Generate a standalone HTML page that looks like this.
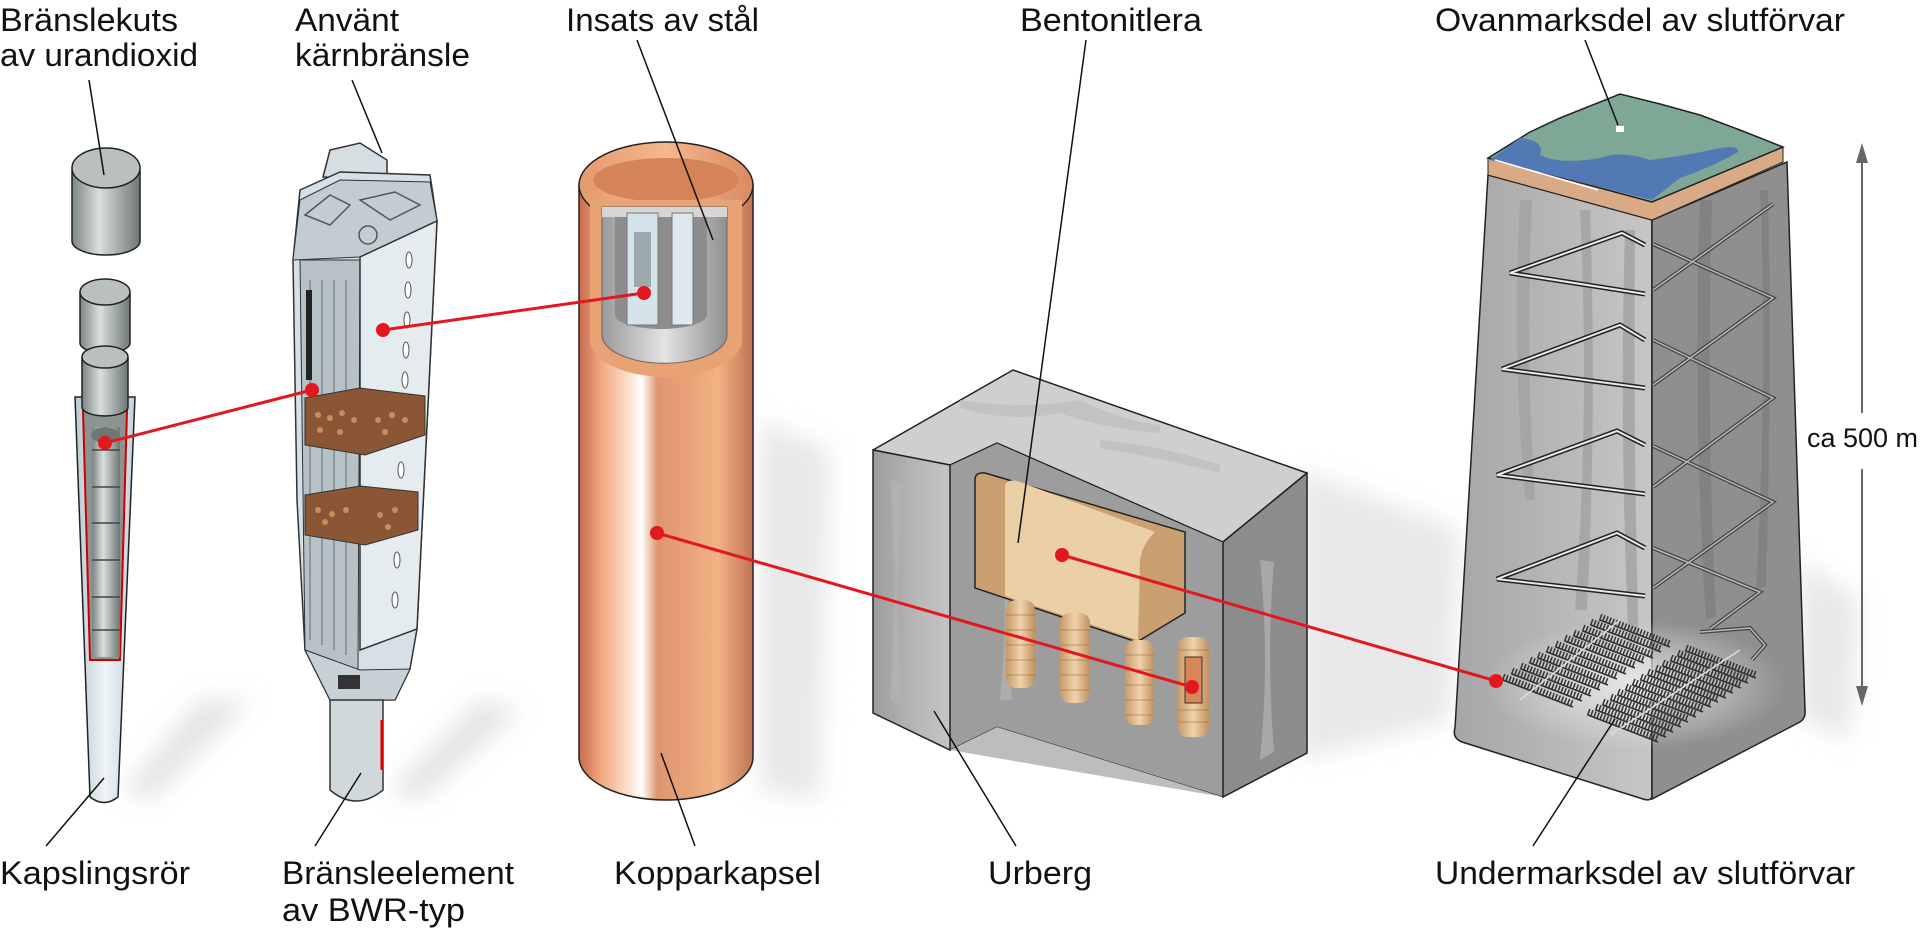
<!DOCTYPE html>
<html><head><meta charset="utf-8"><style>
html,body{margin:0;padding:0;background:#fff;width:1920px;height:932px;overflow:hidden}
svg{display:block}
text{font-family:"Liberation Sans",Arial,sans-serif;fill:#111}
</style></head><body>
<svg width="1920" height="932" viewBox="0 0 1920 932" xmlns="http://www.w3.org/2000/svg">
<defs>
<linearGradient id="cu" x1="0" x2="1" y1="0" y2="0">
<stop offset="0" stop-color="#c9694f"/><stop offset="0.12" stop-color="#eea57a"/><stop offset="0.3" stop-color="#fde6d6"/><stop offset="0.36" stop-color="#fff"/><stop offset="0.45" stop-color="#de9670"/><stop offset="0.6" stop-color="#e7a077"/><stop offset="0.8" stop-color="#f2b384"/><stop offset="1" stop-color="#bf7352"/></linearGradient>
<linearGradient id="cuIn" x1="0" x2="1"><stop offset="0" stop-color="#e59a6d"/><stop offset="0.5" stop-color="#f3b88c"/><stop offset="1" stop-color="#d98a60"/></linearGradient>
<linearGradient id="pel" x1="0" x2="1"><stop offset="0" stop-color="#7b8583"/><stop offset="0.4" stop-color="#d9dfdc"/><stop offset="1" stop-color="#6e7775"/></linearGradient>
<linearGradient id="tube" x1="0" x2="1"><stop offset="0" stop-color="#b9c9d2"/><stop offset="0.5" stop-color="#eef4f7"/><stop offset="1" stop-color="#c3d1d8"/></linearGradient>
<linearGradient id="ins" x1="0" x2="1"><stop offset="0" stop-color="#9a9a9a"/><stop offset="0.5" stop-color="#e3e3e3"/><stop offset="1" stop-color="#8f8f8f"/></linearGradient>
<linearGradient id="lf" x1="0" x2="1"><stop offset="0" stop-color="#9c9c9c"/><stop offset="0.6" stop-color="#b8b8b8"/><stop offset="1" stop-color="#c4c4c4"/></linearGradient>
<linearGradient id="tl" x1="0" x2="1"><stop offset="0" stop-color="#a6a6a6"/><stop offset="0.7" stop-color="#bdbdbd"/><stop offset="1" stop-color="#c6c6c6"/></linearGradient>
<linearGradient id="coil" x1="0" x2="1"><stop offset="0" stop-color="#c79968"/><stop offset="0.5" stop-color="#f0d3ac"/><stop offset="1" stop-color="#c0915f"/></linearGradient>
<radialGradient id="glow" cx="0.5" cy="0.5" r="0.5"><stop offset="0" stop-color="#e6e6e6"/><stop offset="1" stop-color="#e6e6e6" stop-opacity="0"/></radialGradient>
<filter id="bl" x="-50%" y="-50%" width="200%" height="200%"><feGaussianBlur stdDeviation="12"/></filter>
<g id="rowA"><line x1="0" y1="0" x2="70" y2="27" stroke="#333" stroke-width="7" stroke-dasharray="1.5 1.8"/><line x1="0" y1="3" x2="70" y2="30" stroke="#333" stroke-width="1.6"/></g>
</defs>

<!-- shadows -->
<polygon points="125,790 200,700 250,700 150,800" fill="#e3e3e3" filter="url(#bl)"/>
<polygon points="390,790 480,700 520,710 420,800" fill="#e3e3e3" filter="url(#bl)"/>
<polygon points="760,420 830,450 820,800 760,790" fill="#e8e8e8" filter="url(#bl)"/>
<polygon points="1300,470 1460,530 1450,720 1300,760" fill="#e8e8e8" filter="url(#bl)"/>
<polygon points="1800,560 1860,600 1850,740 1800,720" fill="#e8e8e8" filter="url(#bl)"/>

<!-- Pellets -->
<path d="M72,170 L72,241 A34,14 0 0 0 140,241 L140,170 Z" fill="url(#pel)" stroke="#222" stroke-width="1.5"/>
<ellipse cx="106" cy="168" rx="34" ry="20" fill="#b9c0bd" stroke="#222" stroke-width="1.5"/>
<path d="M80,293 L80,343 A25,10 0 0 0 130,343 L130,293 Z" fill="url(#pel)" stroke="#222" stroke-width="1.5"/>
<ellipse cx="105" cy="292" rx="25" ry="13" fill="#b9c0bd" stroke="#222" stroke-width="1.5"/>
<!-- tube -->
<path d="M75,397 L90,797 Q104,808 118,797 L135,397 Z" fill="url(#tube)" stroke="#222" stroke-width="1.5"/>
<path d="M83,410 L90,660 L120,660 L127,410 Z" fill="#8c9492" stroke="#c00" stroke-width="2"/>
<path d="M82,358 L82,407 A23,9 0 0 0 128,407 L128,358 Z" fill="url(#pel)" stroke="#222" stroke-width="1.5"/>
<ellipse cx="105" cy="357" rx="23" ry="11" fill="#b9c0bd" stroke="#222" stroke-width="1.5"/>
<rect x="92" y="427" width="28" height="230" fill="url(#pel)"/>
<g stroke="#444" stroke-width="1.5"><line x1="92" y1="450" x2="120" y2="450"/><line x1="92" y1="487" x2="120" y2="487"/><line x1="92" y1="523" x2="120" y2="523"/><line x1="92" y1="560" x2="120" y2="560"/><line x1="92" y1="597" x2="120" y2="597"/><line x1="92" y1="630" x2="120" y2="630"/></g>
<ellipse cx="105" cy="435" rx="14" ry="8" fill="#6f7774"/>

<!-- Fuel element -->
<path d="M323,177 L330,150 L360,143 L387,160 L387,180 Z" fill="#d5dee3" stroke="#333" stroke-width="1.5"/>
<path d="M300,190 L340,172 L430,175 L437,221 L417,629 L410,669 L395,700 L330,700 L305,650 L297,500 L293,260 Z" fill="#d6e0e6" stroke="#333" stroke-width="1.5"/>
<path d="M300,200 L340,180 L430,182 L437,221 L360,257 L293,260 Z" fill="#c2ccd2" stroke="#333" stroke-width="1"/>
<g fill="none" stroke="#555" stroke-width="1.5"><path d="M305,215 L330,195 L350,205 L330,225 Z"/><path d="M360,200 L395,192 L420,205 L390,220 Z"/><circle cx="368" cy="235" r="9"/></g>
<path d="M300,260 L360,260 L358,670 L305,650 Z" fill="#b7c1c8" stroke="#333" stroke-width="1"/>
<g stroke="#8d979e" stroke-width="2"><line x1="310" y1="280" x2="310" y2="640"/><line x1="322" y1="280" x2="322" y2="645"/><line x1="334" y1="280" x2="334" y2="650"/><line x1="346" y1="280" x2="346" y2="655"/></g>
<rect x="306" y="290" width="6" height="90" fill="#222"/>
<path d="M360,257 L437,221 L417,629 L360,650 Z" fill="#e4ecf0" stroke="#333" stroke-width="1.5"/>
<g fill="#fff" stroke="#555" stroke-width="1"><ellipse cx="409" cy="260" rx="3" ry="8"/><ellipse cx="408" cy="290" rx="3" ry="8"/><ellipse cx="407" cy="320" rx="3" ry="8"/><ellipse cx="406" cy="350" rx="3" ry="8"/><ellipse cx="405" cy="380" rx="3" ry="8"/><ellipse cx="403" cy="430" rx="3" ry="8"/><ellipse cx="401" cy="470" rx="3" ry="8"/><ellipse cx="399" cy="520" rx="3" ry="8"/><ellipse cx="397" cy="560" rx="3" ry="8"/><ellipse cx="395" cy="600" rx="3" ry="8"/></g>
<path d="M305,398 L360,388 L425,396 L425,435 L365,455 L305,445 Z" fill="#8a5636" stroke="#333" stroke-width="1"/>
<path d="M305,495 L360,486 L418,492 L418,530 L365,545 L305,535 Z" fill="#8a5636" stroke="#333" stroke-width="1"/>
<g fill="#c98d5e"><circle cx="318" cy="415" r="3"/><circle cx="330" cy="418" r="3"/><circle cx="342" cy="413" r="3"/><circle cx="354" cy="420" r="3"/><circle cx="378" cy="420" r="3"/><circle cx="392" cy="415" r="3"/><circle cx="405" cy="420" r="3"/><circle cx="320" cy="430" r="3"/><circle cx="340" cy="432" r="3"/><circle cx="385" cy="432" r="3"/><circle cx="318" cy="510" r="3"/><circle cx="332" cy="514" r="3"/><circle cx="346" cy="510" r="3"/><circle cx="380" cy="515" r="3"/><circle cx="395" cy="510" r="3"/><circle cx="325" cy="522" r="3"/><circle cx="388" cy="527" r="3"/></g>
<path d="M305,650 L360,670 L410,669 L395,700 L330,700 Z" fill="#c8d1d6" stroke="#333" stroke-width="1"/>
<rect x="338" y="675" width="22" height="14" fill="#333"/>
<path d="M330,700 L330,790 Q356,812 383,790 L383,700 Z" fill="#d0d8dc" stroke="#333" stroke-width="1.5"/>
<line x1="382" y1="720" x2="382" y2="770" stroke="#d00" stroke-width="3"/>

<!-- Copper capsule -->
<path d="M579,185 L579,757 A87,43 0 0 0 753,757 L753,185 Z" fill="url(#cu)" stroke="#222" stroke-width="1.5"/>
<ellipse cx="666" cy="185" rx="87" ry="43" fill="url(#cuIn)" stroke="#222" stroke-width="1.5"/>
<ellipse cx="666" cy="180" rx="73" ry="22" fill="#d48458"/>
<path d="M590,200 L742,200 L742,340 A76,37 0 0 1 590,340 Z" fill="#e9a273"/>
<path d="M602,207 L727,207 L727,335 A62,28 0 0 1 602,335 Z" fill="url(#ins)" stroke="#666"/>
<rect x="602" y="207" width="125" height="10" fill="#d6d6d6"/>
<path d="M615,217 L707,217 L707,315 A46,14 0 0 1 615,315 Z" fill="#8d8d8d"/>
<rect x="627" y="213" width="31" height="112" fill="#d4e2ea" stroke="#777"/>
<rect x="634" y="232" width="17" height="55" fill="#9ea9ae"/>
<rect x="672" y="213" width="21" height="112" fill="#dce8ee" stroke="#777"/>

<!-- Block (Urberg) -->
<polygon points="873,450 1013,370 1307,473 1223,542 997,443 950,465" fill="#cfcfcf" stroke="#222" stroke-width="1.5" stroke-linejoin="round"/>
<polygon points="950,465 997,443 1223,542 1223,797 997,727 950,750" fill="#9d9d9d" stroke="#222" stroke-width="1"/>
<polygon points="873,450 950,465 950,750 873,713" fill="url(#lf)" stroke="#222" stroke-width="1.5"/>
<polygon points="1223,542 1307,473 1307,753 1223,797" fill="#8d8d8d" stroke="#222" stroke-width="1.5"/>
<polygon points="950,750 997,727 1223,797" fill="#bdbdbd"/>
<g fill="#b4b4b4" opacity="0.7"><path d="M1000,500 q10,100 0,200 l12,0 q-8,-100 0,-200z"/><path d="M1260,560 q10,100 0,200 l14,-8 q-8,-100 0,-190z"/><path d="M890,480 q8,100 0,220 l12,4 q-8,-100 0,-222z"/></g>
<g fill="#bdbdbd" opacity="0.7"><path d="M960,400 q60,10 120,0 q40,20 80,25 l0,8 q-60,-5 -100,-20 q-50,10 -100,-5z"/><path d="M1100,440 q60,5 120,25 l0,8 q-60,-15 -120,-25z"/></g>
<!-- bentonite -->
<path d="M975,480 Q975,472 985,473 L1185,532 L1185,613 L1137,642 L975,588 Z" fill="#caa070" stroke="#222" stroke-width="1.5"/>
<path d="M1005,485 Q1008,478 1020,482 L1155,532 Q1142,545 1140,560 L1138,640 L1005,596 Z" fill="#ebcfa6"/>
<!-- coils -->
<rect x="1006" y="600" width="29" height="88" rx="10" fill="url(#coil)"/>
<rect x="1060" y="613" width="30" height="90" rx="10" fill="url(#coil)"/>
<rect x="1125" y="640" width="29" height="85" rx="10" fill="url(#coil)"/>
<rect x="1178" y="637" width="31" height="100" rx="10" fill="url(#coil)"/>
<g stroke="#9a7048" stroke-width="1" opacity="0.6">
<path d="M1006,615h29M1006,630h29M1006,645h29M1006,660h29M1006,675h29M1060,630h30M1060,645h30M1060,660h30M1060,675h30M1060,690h30M1125,655h29M1125,670h29M1125,685h29M1125,700h29M1125,715h29M1178,650h31M1178,710h31M1178,722h31"/></g>
<rect x="1185" y="657" width="17" height="46" fill="#d98656" stroke="#333"/>

<!-- Tower -->
<path d="M1488,175 L1455,728 Q1452,738 1462,742 L1643,799 Q1652,802 1652,795 L1652,220 Z" fill="url(#tl)" stroke="#222" stroke-width="1.5"/>
<path d="M1652,220 L1652,799 L1800,722 Q1806,718 1805,710 L1787,162 Z" fill="#8f8f8f" stroke="#222" stroke-width="1.5"/>
<g fill="#a2a2a2" opacity="0.8"><path d="M1520,200 q-8,150 5,300 l10,0 q-10,-150 -3,-300z"/><path d="M1580,210 q10,200 -5,400 l12,0 q10,-200 3,-400z"/><path d="M1625,230 q-6,200 4,420 l10,0 q-6,-200 -4,-420z"/></g>
<g fill="#7f7f7f" opacity="0.8"><path d="M1700,200 q-8,200 6,420 l10,-4 q-10,-200 -4,-416z"/><path d="M1760,190 q8,180 -4,400 l10,-4 q6,-200 2,-396z"/></g>
<ellipse cx="1635" cy="685" rx="150" ry="65" fill="url(#glow)"/>
<!-- top -->
<polygon points="1488,158 1652,202 1783,147 1783,162 1652,220 1488,175" fill="#d8aa86" stroke="#222" stroke-width="1"/>
<polygon points="1488,158 1530,132 1560,118 1620,94 1660,104 1700,115 1740,130 1783,147 1652,202" fill="#7fa796" stroke="#222" stroke-width="1.5"/>
<path d="M1490,160 L1520,138 Q1545,140 1540,155 Q1560,165 1600,158 Q1620,150 1650,160 Q1690,155 1710,150 Q1740,143 1738,152 Q1710,168 1680,178 L1652,200 Z" fill="#5279b4"/>
<line x1="1495" y1="160" x2="1598" y2="190" stroke="#fff" stroke-width="1.5"/>
<rect x="1616" y="126" width="8" height="6" fill="#fff"/>
<!-- shafts -->
<g fill="none" stroke-linejoin="miter">
<g stroke="#222" stroke-width="5">
<polyline points="1645,245 1622,233 1510,273 1645,294"/>
<polyline points="1645,340 1620,325 1502,369 1645,388"/>
<polyline points="1645,445 1617,431 1497,475 1645,494"/>
<polyline points="1645,548 1617,533 1497,579 1645,596"/>
</g>
<g stroke="#e8e8e8" stroke-width="2">
<polyline points="1645,245 1622,233 1510,273 1645,294"/>
<polyline points="1645,340 1620,325 1502,369 1645,388"/>
<polyline points="1645,445 1617,431 1497,475 1645,494"/>
<polyline points="1645,548 1617,533 1497,579 1645,596"/>
</g>
<g stroke="#444" stroke-width="4">
<polyline points="1653,290 1773,204"/><polyline points="1653,244 1773,298 1653,385"/>
<polyline points="1653,340 1773,398 1653,487"/><polyline points="1653,446 1773,502 1653,588"/>
<polyline points="1653,548 1760,592 1710,629"/><polyline points="1700,632 1750,628 1765,645 1752,660"/>
</g>
<g stroke="#b8b8b8" stroke-width="1.5">
<polyline points="1653,290 1773,204"/><polyline points="1653,244 1773,298 1653,385"/>
<polyline points="1653,340 1773,398 1653,487"/><polyline points="1653,446 1773,502 1653,588"/>
<polyline points="1653,548 1760,592 1710,629"/><polyline points="1700,632 1750,628 1765,645 1752,660"/>
</g></g>
<!-- grid -->
<g>
<use href="#rowA" x="1503" y="677"/><use href="#rowA" x="1512" y="671"/><use href="#rowA" x="1521" y="666"/><use href="#rowA" x="1530" y="660"/><use href="#rowA" x="1538" y="655"/><use href="#rowA" x="1547" y="649"/><use href="#rowA" x="1556" y="644"/><use href="#rowA" x="1565" y="638"/><use href="#rowA" x="1574" y="633"/><use href="#rowA" x="1583" y="628"/><use href="#rowA" x="1591" y="622"/><use href="#rowA" x="1600" y="617"/>
<use href="#rowA" x="1588" y="712"/><use href="#rowA" x="1596" y="707"/><use href="#rowA" x="1603" y="702"/><use href="#rowA" x="1611" y="697"/><use href="#rowA" x="1618" y="692"/><use href="#rowA" x="1626" y="687"/><use href="#rowA" x="1633" y="682"/><use href="#rowA" x="1641" y="677"/><use href="#rowA" x="1648" y="672"/><use href="#rowA" x="1656" y="668"/><use href="#rowA" x="1663" y="663"/><use href="#rowA" x="1671" y="658"/><use href="#rowA" x="1678" y="653"/><use href="#rowA" x="1686" y="648"/>
</g>
<line x1="1520" y1="700" x2="1620" y2="620" stroke="#ddd" stroke-width="1.5"/>
<line x1="1610" y1="735" x2="1740" y2="650" stroke="#ddd" stroke-width="1.5"/>

<!-- arrow -->
<line x1="1862" y1="150" x2="1862" y2="413" stroke="#666" stroke-width="2"/>
<line x1="1862" y1="469" x2="1862" y2="700" stroke="#666" stroke-width="2"/>
<polygon points="1862,143 1856,163 1868,163" fill="#666"/>
<polygon points="1862,706 1856,686 1868,686" fill="#666"/>
<text x="1807" y="447" font-size="27" textLength="111" lengthAdjust="spacingAndGlyphs">ca 500 m</text>

<!-- leader lines -->
<g stroke="#111" stroke-width="1.5" fill="none">
<line x1="89" y1="80" x2="104" y2="175"/>
<line x1="352" y1="80" x2="382" y2="153"/>
<line x1="637" y1="40" x2="713" y2="240"/>
<line x1="1086" y1="40" x2="1018" y2="543"/>
<line x1="1585" y1="40" x2="1618" y2="125"/>
<line x1="46" y1="846" x2="104" y2="778"/>
<line x1="315" y1="846" x2="361" y2="773"/>
<line x1="695" y1="846" x2="661" y2="753"/>
<line x1="1016" y1="846" x2="934" y2="711"/>
<line x1="1533" y1="846" x2="1615" y2="719"/>
</g>

<!-- red connectors -->
<g stroke="#e3171e" stroke-width="3" fill="#e3171e">
<line x1="105" y1="443" x2="312" y2="390"/>
<line x1="383" y1="330" x2="644" y2="293"/>
<line x1="657" y1="533" x2="1192" y2="687"/>
<line x1="1062" y1="555" x2="1496" y2="681"/>
<circle cx="105" cy="443" r="7" stroke="none"/><circle cx="312" cy="390" r="7" stroke="none"/>
<circle cx="383" cy="330" r="7" stroke="none"/><circle cx="644" cy="293" r="7" stroke="none"/>
<circle cx="657" cy="533" r="7" stroke="none"/><circle cx="1192" cy="687" r="7" stroke="none"/>
<circle cx="1062" cy="555" r="7" stroke="none"/><circle cx="1496" cy="681" r="7" stroke="none"/>
</g>

<!-- labels -->
<g font-size="32">
<text x="0" y="31" textLength="178" lengthAdjust="spacingAndGlyphs">Bränslekuts</text>
<text x="0" y="66" textLength="198" lengthAdjust="spacingAndGlyphs">av urandioxid</text>
<text x="295" y="31" textLength="104" lengthAdjust="spacingAndGlyphs">Använt</text>
<text x="295" y="66" textLength="175" lengthAdjust="spacingAndGlyphs">kärnbränsle</text>
<text x="566" y="31" textLength="193" lengthAdjust="spacingAndGlyphs">Insats av stål</text>
<text x="1020" y="31" textLength="182" lengthAdjust="spacingAndGlyphs">Bentonitlera</text>
<text x="1435" y="31" textLength="410" lengthAdjust="spacingAndGlyphs">Ovanmarksdel av slutförvar</text>
<text x="0" y="884" textLength="190" lengthAdjust="spacingAndGlyphs">Kapslingsrör</text>
<text x="282" y="884" textLength="232" lengthAdjust="spacingAndGlyphs">Bränsleelement</text>
<text x="282" y="921" textLength="183" lengthAdjust="spacingAndGlyphs">av BWR-typ</text>
<text x="614" y="884" textLength="207" lengthAdjust="spacingAndGlyphs">Kopparkapsel</text>
<text x="988" y="884" textLength="104" lengthAdjust="spacingAndGlyphs">Urberg</text>
<text x="1435" y="884" textLength="420" lengthAdjust="spacingAndGlyphs">Undermarksdel av slutförvar</text>
</g>
</svg>
</body></html>
